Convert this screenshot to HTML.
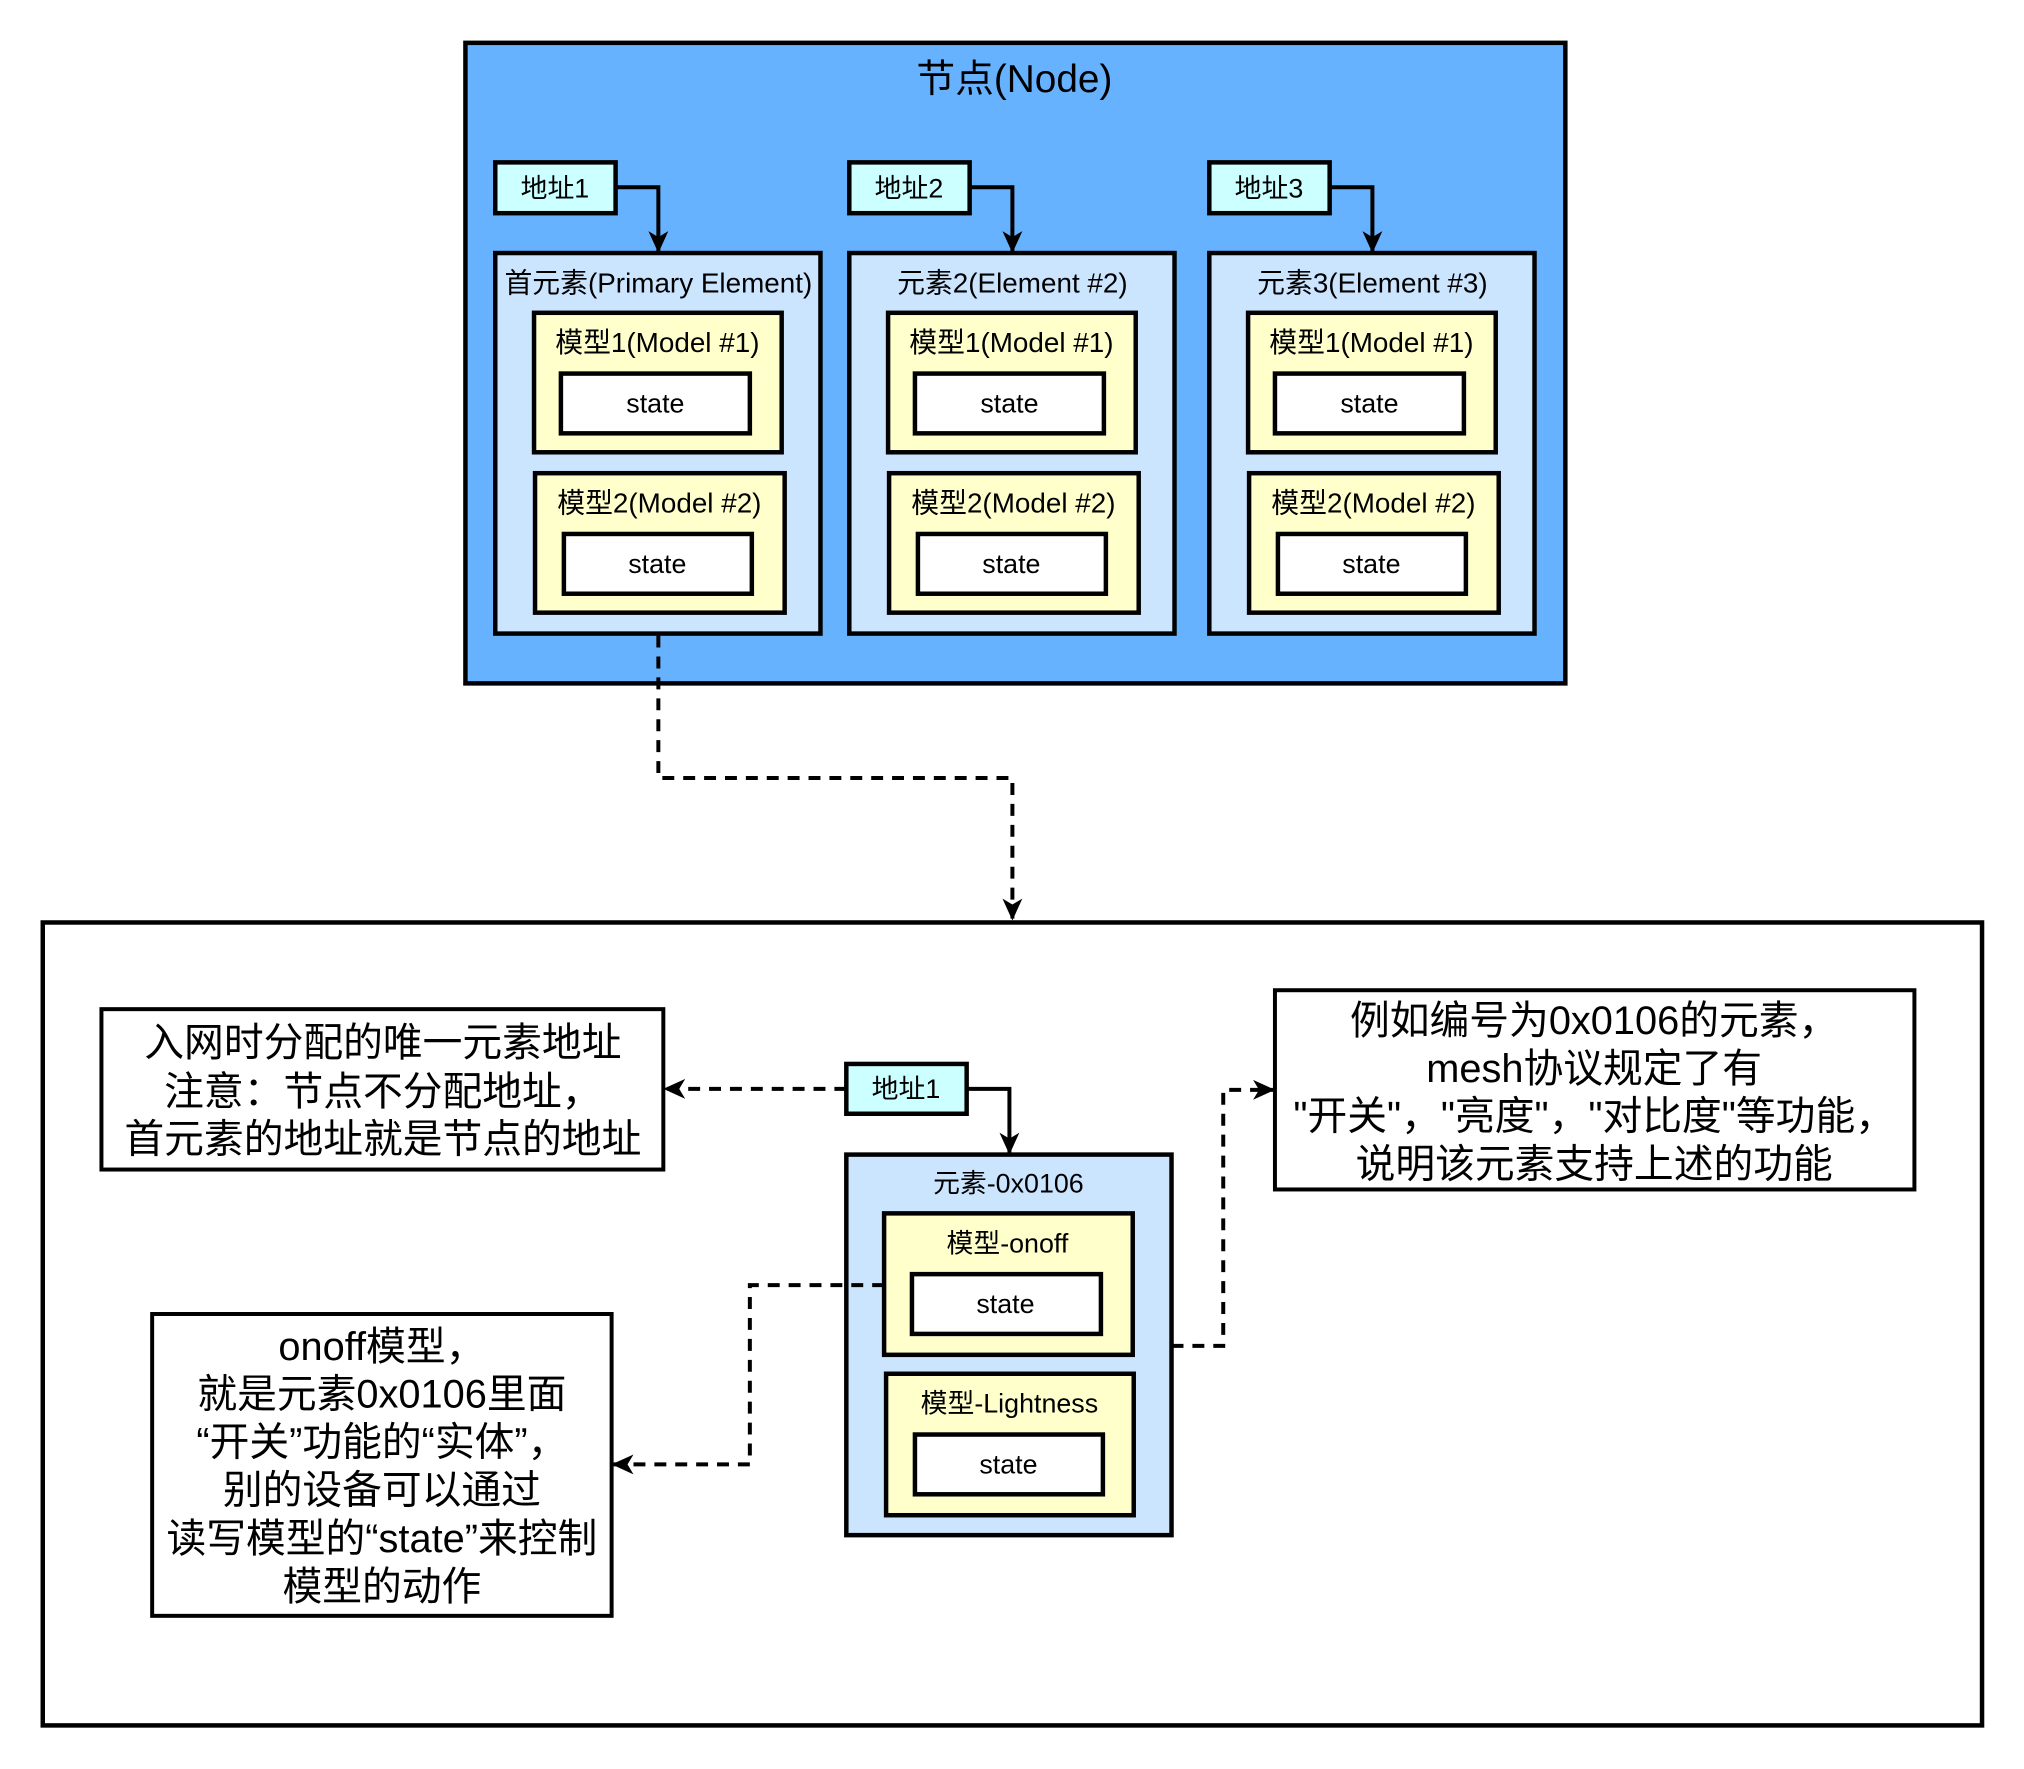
<!DOCTYPE html>
<html><head><meta charset="utf-8"><style>
html,body{margin:0;padding:0;background:#fff;}
svg text{font-family:"Liberation Sans","Noto Sans CJK SC",sans-serif;fill:#000;text-anchor:middle;dominant-baseline:central;}
</style></head><body>
<svg width="2024" height="1764" viewBox="0 0 2024 1764" xmlns="http://www.w3.org/2000/svg">
<defs>
<marker id="ah2" markerWidth="22" markerHeight="22" refX="20" refY="11" orient="auto" markerUnits="userSpaceOnUse" viewBox="0 0 22 22">
<path d="M0,1 L22,11 L0,21 L6,11 z" fill="#000"/></marker>
</defs>
<g transform="scale(0.9945,0.9962)">
<rect x="468" y="43" width="1106" height="643" fill="#66b2ff" stroke="#000" stroke-width="4.5"/>
<text x="1020" y="80" font-size="39">节点(Node)</text>

<g>
<rect x="498" y="163" width="121" height="51" fill="#ccffff" stroke="#000" stroke-width="4.5"/>
<text x="558" y="189" font-size="27">地址1</text>
<rect x="498" y="254" width="327" height="382" fill="#cce5ff" stroke="#000" stroke-width="4.5"/>
<text x="662" y="284" font-size="28">首元素(Primary Element)</text>
<rect x="537" y="314" width="249" height="140" fill="#ffffcc" stroke="#000" stroke-width="4.5"/>
<text x="661" y="344" font-size="28">模型1(Model #1)</text>
<rect x="564" y="375" width="190" height="60" fill="#fff" stroke="#000" stroke-width="4.5"/>
<text x="659" y="405" font-size="27">state</text>
<rect x="538" y="475" width="251" height="140" fill="#ffffcc" stroke="#000" stroke-width="4.5"/>
<text x="663" y="505" font-size="28">模型2(Model #2)</text>
<rect x="567" y="536" width="189" height="60" fill="#fff" stroke="#000" stroke-width="4.5"/>
<text x="661" y="566" font-size="27">state</text>
<path d="M619,188 H662 V252" fill="none" stroke="#000" stroke-width="4" marker-end="url(#ah2)"/>
</g>

<g transform="translate(356,0)">
<rect x="498" y="163" width="121" height="51" fill="#ccffff" stroke="#000" stroke-width="4.5"/>
<text x="558" y="189" font-size="27">地址2</text>
<rect x="498" y="254" width="327" height="382" fill="#cce5ff" stroke="#000" stroke-width="4.5"/>
<text x="662" y="284" font-size="28">元素2(Element #2)</text>
<rect x="537" y="314" width="249" height="140" fill="#ffffcc" stroke="#000" stroke-width="4.5"/>
<text x="661" y="344" font-size="28">模型1(Model #1)</text>
<rect x="564" y="375" width="190" height="60" fill="#fff" stroke="#000" stroke-width="4.5"/>
<text x="659" y="405" font-size="27">state</text>
<rect x="538" y="475" width="251" height="140" fill="#ffffcc" stroke="#000" stroke-width="4.5"/>
<text x="663" y="505" font-size="28">模型2(Model #2)</text>
<rect x="567" y="536" width="189" height="60" fill="#fff" stroke="#000" stroke-width="4.5"/>
<text x="661" y="566" font-size="27">state</text>
<path d="M619,188 H662 V252" fill="none" stroke="#000" stroke-width="4" marker-end="url(#ah2)"/>
</g>

<g transform="translate(718,0)">
<rect x="498" y="163" width="121" height="51" fill="#ccffff" stroke="#000" stroke-width="4.5"/>
<text x="558" y="189" font-size="27">地址3</text>
<rect x="498" y="254" width="327" height="382" fill="#cce5ff" stroke="#000" stroke-width="4.5"/>
<text x="662" y="284" font-size="28">元素3(Element #3)</text>
<rect x="537" y="314" width="249" height="140" fill="#ffffcc" stroke="#000" stroke-width="4.5"/>
<text x="661" y="344" font-size="28">模型1(Model #1)</text>
<rect x="564" y="375" width="190" height="60" fill="#fff" stroke="#000" stroke-width="4.5"/>
<text x="659" y="405" font-size="27">state</text>
<rect x="538" y="475" width="251" height="140" fill="#ffffcc" stroke="#000" stroke-width="4.5"/>
<text x="663" y="505" font-size="28">模型2(Model #2)</text>
<rect x="567" y="536" width="189" height="60" fill="#fff" stroke="#000" stroke-width="4.5"/>
<text x="661" y="566" font-size="27">state</text>
<path d="M619,188 H662 V252" fill="none" stroke="#000" stroke-width="4" marker-end="url(#ah2)"/>
</g>

<path d="M662,638 V781 H1018 V922" fill="none" stroke="#000" stroke-width="4" stroke-dasharray="12,9" marker-end="url(#ah2)"/>

<rect x="43" y="926" width="1950" height="806" fill="none" stroke="#000" stroke-width="4.5"/>

<rect x="102" y="1013" width="565" height="161" fill="#fff" stroke="#000" stroke-width="4"/>
<text x="385" y="1047" font-size="40">入网时分配的唯一元素地址</text>
<text x="385" y="1096" font-size="40">注意：节点不分配地址，</text>
<text x="385" y="1144" font-size="40">首元素的地址就是节点的地址</text>

<rect x="1282" y="994" width="643" height="200" fill="#fff" stroke="#000" stroke-width="4"/>
<text x="1603" y="1025" font-size="40">例如编号为0x0106的元素，</text>
<text x="1603" y="1073" font-size="40">mesh协议规定了有</text>
<text x="1603" y="1121" font-size="40">"开关"，"亮度"，"对比度"等功能，</text>
<text x="1603" y="1169" font-size="40">说明该元素支持上述的功能</text>

<rect x="153" y="1319" width="462" height="303" fill="#fff" stroke="#000" stroke-width="4"/>
<text x="384" y="1352" font-size="40">onoff模型，</text>
<text x="384" y="1400" font-size="40">就是元素0x0106里面</text>
<text x="384" y="1448" font-size="40">“开关”功能的“实体”，</text>
<text x="384" y="1496" font-size="40">别的设备可以通过</text>
<text x="384" y="1545" font-size="40">读写模型的“state”来控制</text>
<text x="384" y="1593" font-size="40">模型的动作</text>

<rect x="851" y="1068" width="121" height="50" fill="#ccffff" stroke="#000" stroke-width="4.5"/>
<text x="911" y="1093" font-size="27">地址1</text>
<path d="M972,1093 H1015 V1157" fill="none" stroke="#000" stroke-width="4" marker-end="url(#ah2)"/>
<path d="M851,1093 H669" fill="none" stroke="#000" stroke-width="4" stroke-dasharray="12,9" marker-end="url(#ah2)"/>

<rect x="851" y="1159" width="327" height="382" fill="#cce5ff" stroke="#000" stroke-width="4.5"/>
<text x="1014" y="1188" font-size="27">元素-0x0106</text>
<rect x="889" y="1218" width="250" height="142" fill="#ffffcc" stroke="#000" stroke-width="4.5"/>
<text x="1013" y="1248" font-size="27">模型-onoff</text>
<rect x="917" y="1279" width="190" height="60" fill="#fff" stroke="#000" stroke-width="4.5"/>
<text x="1011" y="1309" font-size="27">state</text>
<rect x="891" y="1379" width="249" height="142" fill="#ffffcc" stroke="#000" stroke-width="4.5"/>
<text x="1015" y="1409" font-size="27">模型-Lightness</text>
<rect x="920" y="1440" width="189" height="60" fill="#fff" stroke="#000" stroke-width="4.5"/>
<text x="1014" y="1470" font-size="27">state</text>

<path d="M889,1290 H754 V1470 H617" fill="none" stroke="#000" stroke-width="4" stroke-dasharray="12,9" marker-end="url(#ah2)"/>
<path d="M1178,1351 H1230 V1094 H1280" fill="none" stroke="#000" stroke-width="4" stroke-dasharray="12,9" marker-end="url(#ah2)"/>
</g>
</svg>
</body></html>
